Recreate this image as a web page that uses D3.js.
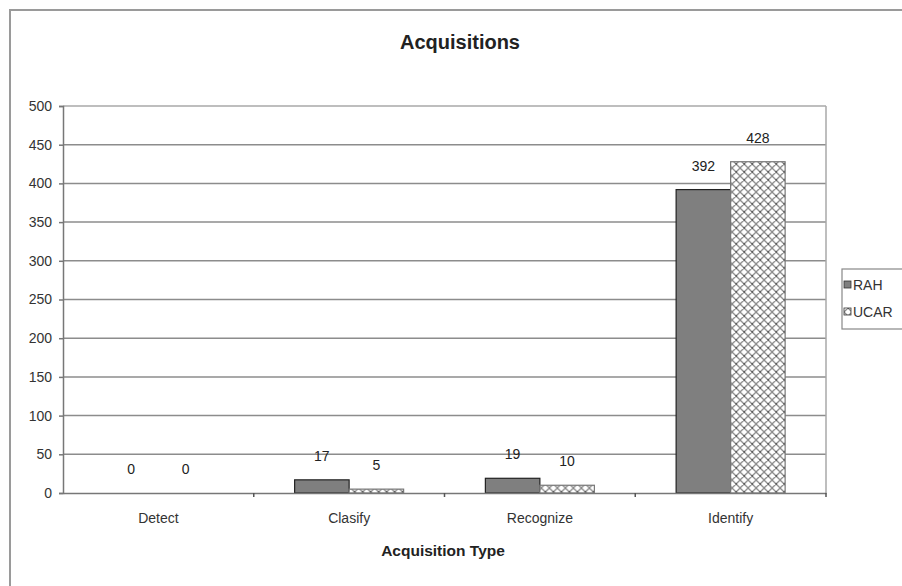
<!DOCTYPE html>
<html><head><meta charset="utf-8">
<script src="https://cdn.jsdelivr.net/npm/d3@7"></script>
<style>body{margin:0;background:#fff;}svg{display:block;font-family:"Liberation Sans",Arial,sans-serif;}</style>
</head><body>
<svg id="c" width="902" height="586"></svg>
<script>
const categories = ["Detect", "Clasify", "Recognize", "Identify"];
const seriesNames = ["RAH", "UCAR"];
const rahValues = [0, 17, 19, 392];
const ucarValues = [0, 5, 10, 428];
const yTicks = [0, 50, 100, 150, 200, 250, 300, 350, 400, 450, 500];
const chartTitle = "Acquisitions";
const xTitle = "Acquisition Type";

const svg = d3.select("#c");
const defs = svg.append("defs");
const pat = defs.append("pattern").attr("id","hatch").attr("patternUnits","userSpaceOnUse")
  .attr("width",8).attr("height",8);
pat.append("rect").attr("width",8).attr("height",8).attr("fill","#fff");
pat.append("path").attr("d","M0,0 L8,8 M8,0 L0,8 M-1,7 L1,9 M7,-1 L9,1 M-1,1 L1,-1 M7,9 L9,7")
  .attr("stroke","#8a8a8a").attr("stroke-width",1.3);
pat.append("rect").attr("x",3.3).attr("y",3.3).attr("width",1.4).attr("height",1.4).attr("fill","#333");

// outer chart border
svg.append("rect").attr("x",10).attr("y",10).attr("width",920).attr("height",620)
  .attr("fill","none").attr("stroke","#9a9a9a").attr("stroke-width",2);

const L = 63, R = 826, T = 106, B = 493;
const x = d3.scaleBand().domain(categories).range([L, R]);
const bw = x.bandwidth() / 3.5;
const xs = d3.scaleBand().domain(seriesNames).range([0, 2*bw]);
const y = d3.scaleLinear().domain([0, 500]).range([B, T]);

// gridlines
svg.append("g").selectAll("line").data(yTicks.slice(1)).join("line")
  .attr("x1",L).attr("x2",R).attr("y1",d=>y(d)).attr("y2",d=>y(d))
  .attr("stroke",d=>d===500?"#a8a8a8":"#8c8c8c").attr("stroke-width",1.5);
// right border of plot
svg.append("line").attr("x1",R).attr("x2",R).attr("y1",T).attr("y2",B)
  .attr("stroke","#a8a8a8").attr("stroke-width",1.5);

// bars
const data = categories.map((c,i)=>({c, vals:[{s:"RAH",v:rahValues[i]},{s:"UCAR",v:ucarValues[i]}]}));
const g = svg.append("g").selectAll("g").data(data).join("g")
  .attr("transform",d=>`translate(${x(d.c)+x.bandwidth()/2-bw},0)`);
g.selectAll("rect").data(d=>d.vals).join("rect")
  .attr("x",d=>xs(d.s)).attr("width",xs.bandwidth())
  .attr("y",d=>y(d.v)).attr("height",d=>B-y(d.v))
  .attr("fill",d=>d.s==="RAH"?"#7f7f7f":"url(#hatch)")
  .attr("stroke",d=>d.v>0?(d.s==="RAH"?"#222":"#777"):"none")
  .attr("stroke-width",1.2);
g.selectAll("text").data(d=>d.vals).join("text")
  .attr("x",d=>xs(d.s)+xs.bandwidth()/2).attr("y",d=>y(d.v)-19)
  .attr("text-anchor","middle").attr("font-size",14).attr("fill","#222")
  .text(d=>d.v);

// y axis
const yAxis = svg.append("g").attr("transform",`translate(${L},0)`)
  .call(d3.axisLeft(y).tickValues(yTicks).tickSize(4).tickPadding(7).tickFormat(d3.format("d")));
yAxis.select(".domain").attr("stroke","#777").attr("stroke-width",1.5);
yAxis.selectAll(".tick line").attr("stroke","#777").attr("stroke-width",1.5);
yAxis.selectAll("text").attr("font-size",14).attr("fill","#333").attr("font-family","'Liberation Sans',Arial,sans-serif");

// x axis
const xAxis = svg.append("g").attr("transform",`translate(0,${B})`)
  .call(d3.axisBottom(x).tickSize(0).tickPadding(20));
xAxis.select(".domain").attr("stroke","#777").attr("stroke-width",1.5);
xAxis.selectAll("text").attr("font-size",14).attr("fill","#333").attr("font-family","'Liberation Sans',Arial,sans-serif");
// category separator ticks
svg.append("g").selectAll("line").data(categories.slice(1).concat(["__end"])).join("line")
  .attr("x1",d=>d==="__end"?R:x(d)).attr("x2",d=>d==="__end"?R:x(d))
  .attr("y1",B).attr("y2",B+4).attr("stroke","#555").attr("stroke-width",1.5);

// titles
svg.append("text").attr("x",460).attr("y",49).attr("text-anchor","middle")
  .attr("font-size",20).attr("font-weight","bold").attr("fill","#222").text(chartTitle);
svg.append("text").attr("x",443).attr("y",556).attr("text-anchor","middle")
  .attr("font-size",15.5).attr("font-weight","bold").attr("fill","#222").text(xTitle);

// legend
svg.append("rect").attr("x",842).attr("y",269).attr("width",80).attr("height",60)
  .attr("fill","#fff").attr("stroke","#888").attr("stroke-width",1.2);
const lg = svg.append("g").selectAll("g").data(seriesNames).join("g")
  .attr("transform",(d,i)=>`translate(844,${285+i*27})`);
lg.append("rect").attr("x",0).attr("y",-4).attr("width",7).attr("height",7)
  .attr("fill",d=>d==="RAH"?"#7f7f7f":"url(#hatch)").attr("stroke","#333").attr("stroke-width",0.8);
lg.append("text").attr("x",9).attr("y",5).attr("font-size",14).attr("fill","#333").text(d=>d);
</script>
</body></html>
